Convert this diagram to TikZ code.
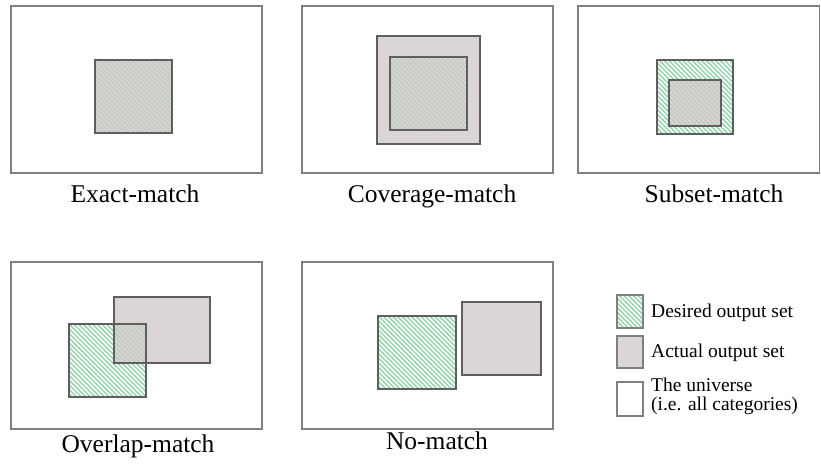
\documentclass[tikz,border=0pt]{standalone}
\usepackage{fontspec}
\setmainfont{Liberation Serif}
\usetikzlibrary{patterns.meta}
\definecolor{hatchgreen}{RGB}{150,212,172}
\definecolor{actgray}{RGB}{207,200,199}
\definecolor{innerline}{RGB}{95,95,95}
\definecolor{outerline}{RGB}{128,128,128}
\tikzset{
  universe/.style={draw=outerline, line width=1.5pt, fill=white},
  actualset/.style={fill=actgray, fill opacity=0.75},
  desiredset/.style={pattern={Lines[angle=-45,distance=3.3pt,line width=1.5pt]}, pattern color=hatchgreen},
  setborder/.style={draw=innerline, line width=1.2pt},
  caption/.style={anchor=base, font=\fontsize{25.5}{30}\selectfont, inner sep=0pt},
  legendtext/.style={anchor=west, font=\fontsize{19.5}{19}\selectfont, inner sep=0pt, align=left}
}
\begin{document}
\begin{tikzpicture}[x=1pt,y=1pt]
\useasboundingbox (0,0) rectangle (821,465);
% Panel 1: Exact-match
\draw[universe] (11,459) rectangle (262,292);
\fill[desiredset] (95,405) rectangle (172,332);
\fill[actualset] (95,405) rectangle (172,332);
\draw[setborder] (95,405) rectangle (172,332);
\node[caption] (exact) at (135,262) {Exact-match};
% Panel 2: Coverage-match
\draw[universe] (302,459) rectangle (553,292);
\fill[desiredset] (390,408) rectangle (467,335);
\fill[actualset] (377,429) rectangle (480,321);
\draw[setborder] (377,429) rectangle (480,321);
\draw[setborder] (390,408) rectangle (467,335);
\node[caption] (coverage) at (432,262) {Coverage-match};
% Panel 3: Subset-match
\draw[universe] (578,459) rectangle (819.5,292);
\fill[desiredset] (657,405) rectangle (733,331);
\fill[actualset] (669,385) rectangle (721,339);
\draw[setborder] (657,405) rectangle (733,331);
\draw[setborder] (669,385) rectangle (721,339);
\node[caption] (subset) at (714,262) {Subset-match};
% Panel 4: Overlap-match
\draw[universe] (11,203) rectangle (262,36);
\fill[desiredset] (69,141) rectangle (146,68);
\fill[actualset] (114,168) rectangle (210,102);
\draw[setborder] (114,168) rectangle (210,102);
\draw[setborder] (69,141) rectangle (146,68);
\node[caption] (overlap) at (138,12) {Overlap-match};
% Panel 5: No-match
\draw[universe] (302,203) rectangle (553,36);
\fill[desiredset] (378,149) rectangle (456,76);
\draw[setborder] (378,149) rectangle (456,76);
\fill[actualset] (462,163) rectangle (541,90);
\draw[setborder] (462,163) rectangle (541,90);
\node[caption] (nomatch) at (437,15) {No-match};
% Legend
\fill[desiredset] (617,170) rectangle (643,137);
\draw[draw=outerline, line width=1.3pt] (617,170) rectangle (643,137);
\fill[actualset] (617,129) rectangle (643,97);
\draw[draw=outerline, line width=1.3pt] (617,129) rectangle (643,97);
\draw[draw=outerline, line width=1.3pt, fill=white] (617,83) rectangle (643,49);
\node[legendtext] (ldesired) at (651,152) {Desired output set};
\node[legendtext] (lactual) at (651,112) {Actual output set};
\node[legendtext] (luniverse) at (651,68.5) {The universe\\(i.e. all categories)};
\end{tikzpicture}
\end{document}
